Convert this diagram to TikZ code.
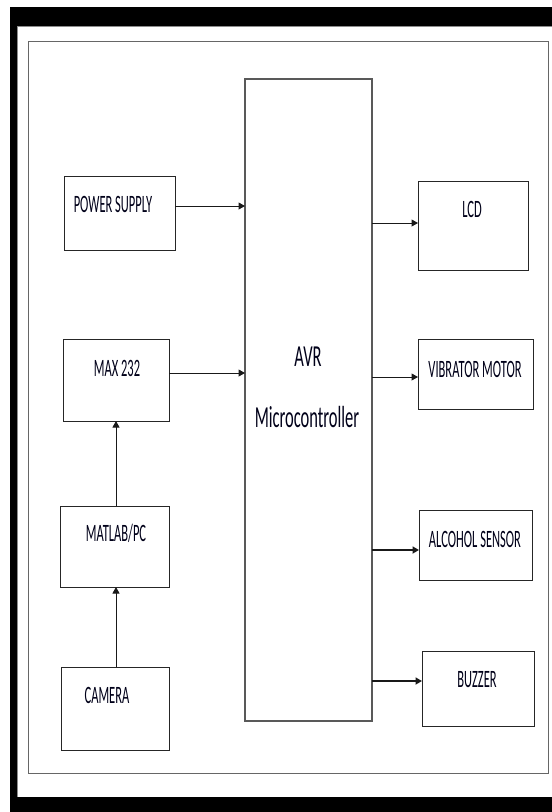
\documentclass[tikz,border=0pt]{standalone}
\usepackage{graphicx}
\usepackage{fontspec}
\setmainfont{Carlito}
\usetikzlibrary{arrows.meta}
\newcommand\talltext[2][2]{\scalebox{1}[#1]{#2}}
\begin{document}
\begin{tikzpicture}[x=1pt,y=-1pt,
  box/.style={draw=black!85, line width=0.9pt, inner sep=0pt, outer sep=0pt},
  bigbox/.style={draw=black!65, line width=1.1pt, inner sep=0pt, outer sep=0pt},
  lbl/.style={inner sep=0pt, text=black!90!blue, font=\fontsize{12.5}{14}\selectfont},
  biglbl/.style={inner sep=0pt, text=black!90!blue, font=\fontsize{16.5}{18}\selectfont},
  arr/.style={-{Triangle[length=6.5pt,width=7pt]}, line width=1pt, black!90},
  thickarr/.style={-{Triangle[length=6.5pt,width=7pt]}, line width=1.8pt, black!90}]
\useasboundingbox (0,0) rectangle (552,812);
% frame
\fill[white] (0,0) rectangle (552,812);
\fill[black] (10,7) rectangle (552,812);
\fill[white] (17,25.5) rectangle (552,797);
\draw[black!45, line width=0.6pt] (17.3,797) -- (17.3,25.8) -- (552,25.8);
\draw[black!60, line width=1pt] (28,41) rectangle (548,773);
% boxes
\node[box, minimum width=111pt, minimum height=74pt] (ps) at (119.5,213) {};
\node[box, minimum width=106pt, minimum height=82pt] (max) at (116,380) {};
\node[box, minimum width=109pt, minimum height=81pt] (matlab) at (114.5,546.5) {};
\node[box, minimum width=108pt, minimum height=83pt] (cam) at (115,708.5) {};
\node[bigbox, minimum width=127pt, minimum height=642pt] (avr) at (308.5,400) {};
\node[box, minimum width=110pt, minimum height=89pt] (lcd) at (473,225.5) {};
\node[box, minimum width=115pt, minimum height=70pt] (vib) at (475.5,374) {};
\node[box, minimum width=113pt, minimum height=70pt] (alc) at (475.5,545) {};
\node[box, minimum width=112pt, minimum height=75pt] (buz) at (478,688.5) {};
% labels
\node[lbl] (pst) at (113,204) {\talltext{POWER SUPPLY}};
\node[lbl] (maxt) at (117,368) {\talltext{MAX 232}};
\node[lbl] (matlabt) at (116,533) {\talltext{MATLAB/PC}};
\node[lbl] (camt) at (107,695) {\talltext{CAMERA}};
\node[biglbl] (avrt1) at (308,357) {\talltext[1.85]{AVR}};
\node[biglbl] (avrt2) at (307,417) {\talltext[1.85]{Microcontroller}};
\node[lbl] (lcdt) at (472,209) {\talltext{LCD}};
\node[lbl] (vibt) at (475,369) {\talltext{VIBRATOR MOTOR}};
\node[lbl] (alct) at (475,539) {\talltext{ALCOHOL SENSOR}};
\node[lbl] (buzt) at (477,680) {\talltext{BUZZER}};
% connectors
\draw[arr] ([yshift=7pt]ps.east) -- ([yshift=7pt]ps.east -| avr.west);
\draw[arr] ([yshift=7pt]max.east) -- ([yshift=7pt]max.east -| avr.west);
\draw[arr] ([xshift=1.5pt]matlab.north) -- ([xshift=1.5pt]matlab.north |- max.south);
\draw[arr] ([xshift=1pt]cam.north) -- ([xshift=1pt]cam.north |- matlab.south);
\draw[arr] ([yshift=2.5pt]lcd.west -| avr.east) -- ([yshift=2.5pt]lcd.west);
\draw[arr] ([yshift=-3pt]vib.west -| avr.east) -- ([yshift=-3pt]vib.west);
\draw[thickarr] ([yshift=-5pt]alc.west -| avr.east) -- ([yshift=-5pt]alc.west);
\draw[thickarr] ([yshift=7.5pt]buz.west -| avr.east) -- ([yshift=7.5pt]buz.west);
\end{tikzpicture}
\end{document}
